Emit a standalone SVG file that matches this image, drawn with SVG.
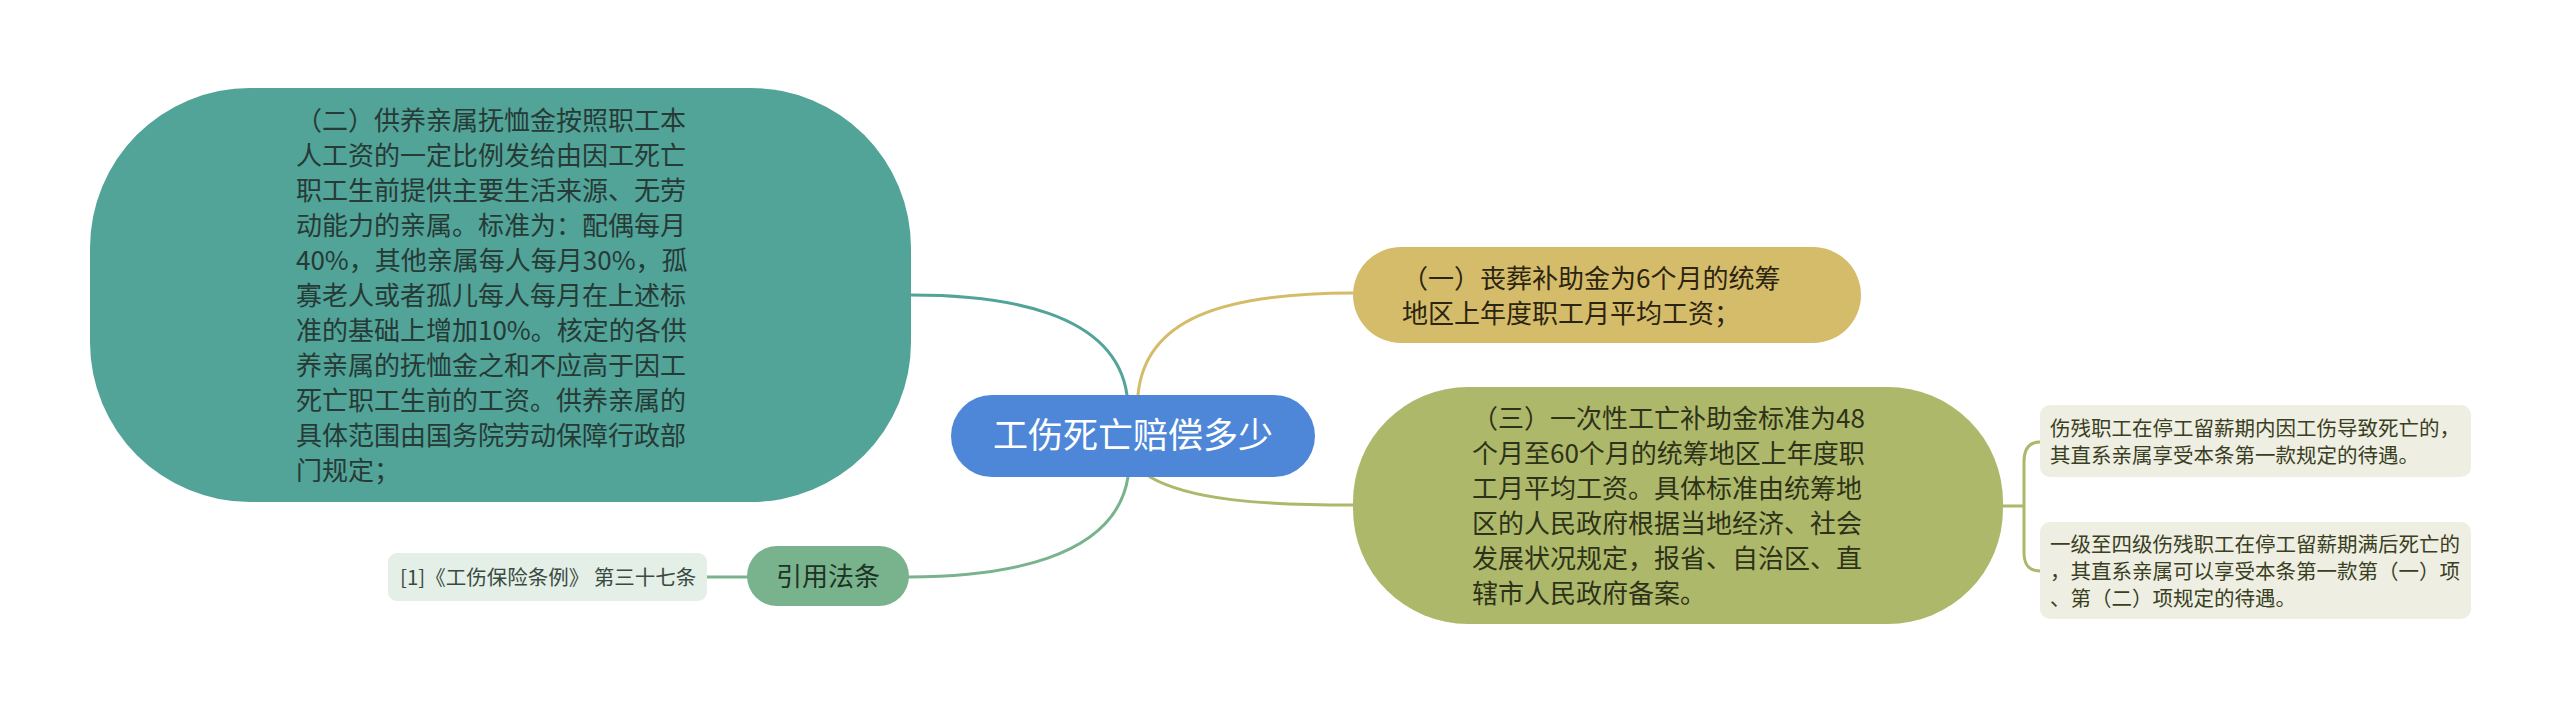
<svg xmlns="http://www.w3.org/2000/svg" width="2560" height="713" viewBox="0 0 2560 713">
<style>
text{font-family:"Noto Sans CJK SC","Noto Sans",sans-serif;}
.body{font-size:26px;}
.leaf{font-size:20.5px;}
.conn{fill:none;stroke-width:3;stroke-linecap:round;}
</style>
<rect x="0" y="0" width="2560" height="713" fill="#ffffff"/>
<g id="connectors">
<path class="conn" stroke="#52a398" d="M911,295 C1000,295 1115,310 1127,395"/>
<path class="conn" stroke="#d5bc6a" d="M1138,395 C1145,320 1220,293 1353,293"/>
<path class="conn" stroke="#adb86b" d="M1150,477 C1190,500 1260,505 1353,505"/>
<path class="conn" stroke="#79b38d" d="M1128,477 C1115,560 1000,577 909,577"/>
<path class="conn" stroke="#79b38d" d="M707,577 H747"/>
<path class="conn" stroke="#adb86b" d="M2003,506 H2024 M2040,442 C2028,442 2024,450 2024,462 V552 C2024,564 2028,571 2040,571"/>
</g>
<g id="root">
<rect x="951" y="395" width="364" height="82" rx="41" fill="#4f87d8"/>
<text x="1133" y="448" font-size="35" fill="#ffffff" text-anchor="middle">工伤死亡赔偿多少</text>
</g>
<g id="node-er">
<rect x="90" y="88" width="821" height="414" rx="160" fill="#52a398"/>
<text class="body" fill="#263a36">
<tspan x="296" y="130">（二）供养亲属抚恤金按照职工本</tspan>
<tspan x="296" y="165">人工资的一定比例发给由因工死亡</tspan>
<tspan x="296" y="200">职工生前提供主要生活来源、无劳</tspan>
<tspan x="296" y="235">动能力的亲属。标准为：配偶每月</tspan>
<tspan x="296" y="270">40%，其他亲属每人每月30%，孤</tspan>
<tspan x="296" y="305">寡老人或者孤儿每人每月在上述标</tspan>
<tspan x="296" y="340">准的基础上增加10%。核定的各供</tspan>
<tspan x="296" y="375">养亲属的抚恤金之和不应高于因工</tspan>
<tspan x="296" y="410">死亡职工生前的工资。供养亲属的</tspan>
<tspan x="296" y="445">具体范围由国务院劳动保障行政部</tspan>
<tspan x="296" y="480">门规定；</tspan>
</text>
</g>
<g id="node-yi">
<rect x="1353" y="247" width="508" height="96" rx="48" fill="#d5bc6a"/>
<text class="body" fill="#2b2410">
<tspan x="1402" y="288">（一）丧葬补助金为6个月的统筹</tspan>
<tspan x="1402" y="323">地区上年度职工月平均工资；</tspan>
</text>
</g>
<g id="node-san">
<rect x="1353" y="387" width="650" height="237" rx="115" fill="#adb86b"/>
<text class="body" fill="#2d3318">
<tspan x="1472" y="428">（三）一次性工亡补助金标准为48</tspan>
<tspan x="1472" y="463">个月至60个月的统筹地区上年度职</tspan>
<tspan x="1472" y="498">工月平均工资。具体标准由统筹地</tspan>
<tspan x="1472" y="533">区的人民政府根据当地经济、社会</tspan>
<tspan x="1472" y="568">发展状况规定，报省、自治区、直</tspan>
<tspan x="1472" y="603">辖市人民政府备案。</tspan>
</text>
</g>
<g id="leaf-1">
<rect x="2040" y="405" width="431" height="72" rx="10" fill="#eeeee3"/>
<text class="leaf" fill="#3a3f22">
<tspan x="2050" y="436">伤残职工在停工留薪期内因工伤导致死亡的，</tspan>
<tspan x="2050" y="463">其直系亲属享受本条第一款规定的待遇。</tspan>
</text>
</g>
<g id="leaf-2">
<rect x="2040" y="522" width="431" height="97" rx="10" fill="#eeeee3"/>
<text class="leaf" fill="#3a3f22">
<tspan x="2050" y="552">一级至四级伤残职工在停工留薪期满后死亡的</tspan>
<tspan x="2050" y="579">，其直系亲属可以享受本条第一款第（一）项</tspan>
<tspan x="2050" y="606">、第（二）项规定的待遇。</tspan>
</text>
</g>
<g id="node-cite">
<rect x="747" y="546" width="162" height="60" rx="30" fill="#79b38d"/>
<text x="828" y="586" class="body" fill="#1d3326" text-anchor="middle">引用法条</text>
</g>
<g id="leaf-cite">
<rect x="388" y="553" width="319" height="48" rx="9" fill="#e4efe8"/>
<text x="400" y="585" class="leaf" fill="#3b4a41">[1]《工伤保险条例》 第三十七条</text>
</g>
</svg>
